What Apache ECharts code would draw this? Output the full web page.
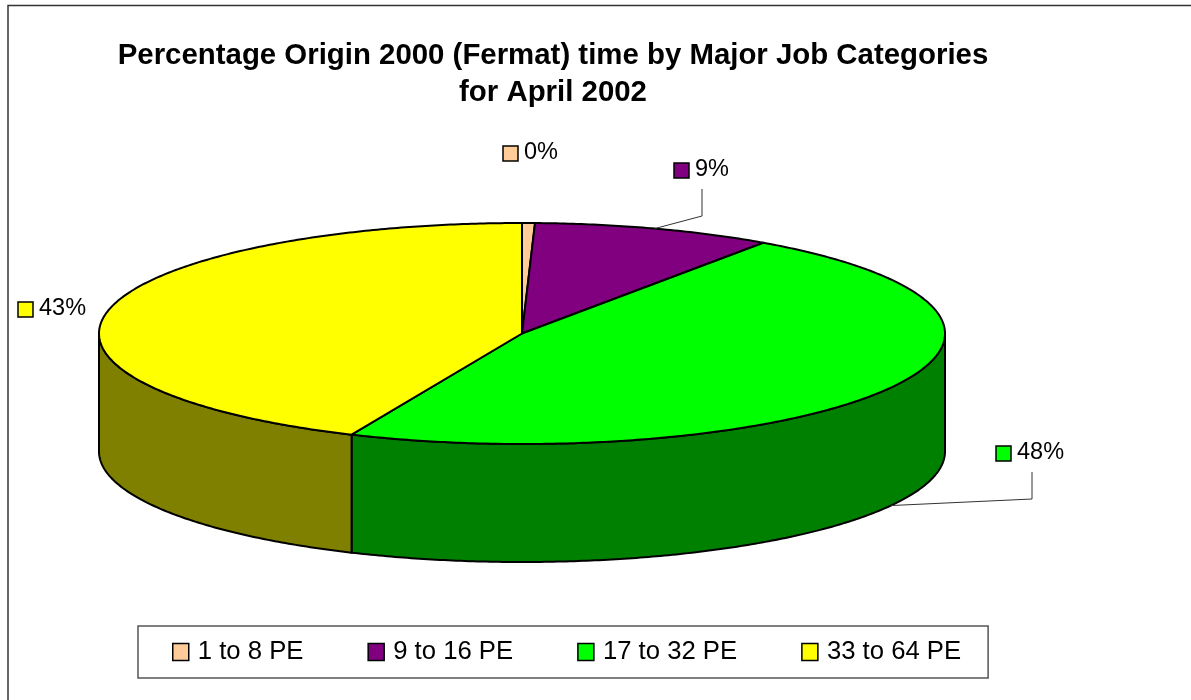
<!DOCTYPE html>
<html><head><meta charset="utf-8">
<style>html,body{margin:0;padding:0;background:#fff}#c{width:1191px;height:700px}</style>
<script src="https://cdn.jsdelivr.net/npm/echarts@6/dist/echarts.min.js"></script>
</head><body><div id="c"></div>
<script>
const titleText = 'Percentage Origin 2000 (Fermat) time by Major Job Categories\nfor April 2002';
const categories = ['1 to 8 PE', '9 to 16 PE', '17 to 32 PE', '33 to 64 PE'];
// Slice shares as drawn in the picture (percent of the pie's angle).
const drawnShares = [0.49, 9.18, 46.93, 43.4];
// Data labels as printed in the picture.
const printedLabels = ['0%', '9%', '48%', '43%'];
const colors = ['#FFCC99', '#800080', '#00FF00', '#FFFF00'];
const sideColors = ['#806633', '#400040', '#008000', '#808000'];

// Layout of the tilted pie
const PIE = { cx: 522, cy: 333.5, rx: 423, ry: 110.5, depth: 118 };
// Label placement: left edge of marker, centre line of the text
const LABEL_POS = [
  { x: 503, y: 153 },
  { x: 674, y: 170 },
  { x: 996, y: 453 },
  { x: 18, y: 309 }
];
// Leader elbows (x, elbow y, text-side y); only where the picture draws one
const LEADERS = [null, { x: 702, elbow: 216, top: 189, bottom: false }, { x: 1032, elbow: 499, top: 472, bottom: true }, null];

const FONT = '"Liberation Sans", Arial, sans-serif';
const total = drawnShares.reduce((a, b) => a + b, 0);
const starts = [];
drawnShares.reduce((acc, v, i) => { starts[i] = acc; return acc + v; }, 0);
const toAngle = v => v / total * Math.PI * 2;
const px = (t, dy) => [PIE.cx + PIE.rx * Math.sin(t), PIE.cy - PIE.ry * Math.cos(t) + (dy || 0)];
function arc(a, b, dy) {
  const n = Math.max(2, Math.ceil(Math.abs(b - a) / 0.01));
  const out = [];
  for (let k = 0; k <= n; k++) out.push(px(a + (b - a) * k / n, dy));
  return out;
}
const EDGE = { stroke: '#000', lineWidth: 2, lineJoin: 'round' };

function makeRender(i) {
  return function (params, api) {
    const a0 = toAngle(starts[i]);
    const a1 = toAngle(starts[i] + api.value(0));
    const children = [];
    // front wall: the part of the slice between 90 and 270 degrees
    const s0 = Math.max(a0, Math.PI / 2), s1 = Math.min(a1, Math.PI * 1.5);
    if (s1 > s0) {
      children.push({
        type: 'polygon',
        shape: { points: arc(s0, s1, 0).concat(arc(s1, s0, PIE.depth)) },
        style: Object.assign({ fill: sideColors[i] }, EDGE)
      });
    }
    // top face
    children.push({
      type: 'polygon',
      shape: { points: [[PIE.cx, PIE.cy]].concat(arc(a0, a1, 0)) },
      style: Object.assign({ fill: colors[i] }, EDGE)
    });
    // leader line from the middle of the slice's outer edge
    const L = LEADERS[i];
    if (L) {
      const p = px((a0 + a1) / 2, L.bottom ? PIE.depth : 0);
      children.push({
        type: 'polyline',
        shape: { points: [[L.x, L.top], [L.x, L.elbow], p] },
        style: { stroke: '#333', lineWidth: 1, fill: null }
      });
    }
    // data label
    const P = LABEL_POS[i];
    children.push({
      type: 'rect',
      shape: { x: P.x, y: P.y - 7, width: 15, height: 15 },
      style: { fill: colors[i], stroke: '#000', lineWidth: 1.5 }
    });
    children.push({
      type: 'text',
      style: { text: printedLabels[i], x: P.x + 21, y: P.y, fontSize: 23.5, fontFamily: FONT, fill: '#000', verticalAlign: 'middle', align: 'left' }
    });
    return { type: 'group', children };
  };
}

const chart = echarts.init(document.getElementById('c'), null, { renderer: 'canvas' });
chart.setOption({
  animation: false,
  backgroundColor: '#fff',
  title: {
    text: titleText, left: 548, top: 33, textAlign: 'center',
    textStyle: { fontFamily: FONT, fontWeight: 'bold', fontSize: 29.4, lineHeight: 36.5, color: '#000' }
  },
  legend: {
    data: categories, left: 138, top: 626, orient: 'horizontal', icon: 'rect',
    itemWidth: 16, itemHeight: 17, itemGap: 64,
    padding: [13, 27, 13, 34],
    backgroundColor: '#fff', borderColor: '#555', borderWidth: 1.5,
    itemStyle: { borderColor: '#000', borderWidth: 1.5 },
    textStyle: { fontFamily: FONT, fontSize: 25.7, color: '#000', padding: [3, 0, 0, 4] },
    selectedMode: false
  },
  graphic: [
    { type: 'polyline', silent: true, shape: { points: [[1191, 5.5], [8, 5.5], [8, 700]] }, style: { stroke: '#333', lineWidth: 1.5, fill: null } }
  ],
  series: categories.map((name, i) => ({
    type: 'custom', name, coordinateSystem: 'none',
    itemStyle: { color: colors[i] },
    data: [[drawnShares[i]]],
    renderItem: makeRender(i),
    silent: true, clip: false
  }))
});
</script></body></html>
